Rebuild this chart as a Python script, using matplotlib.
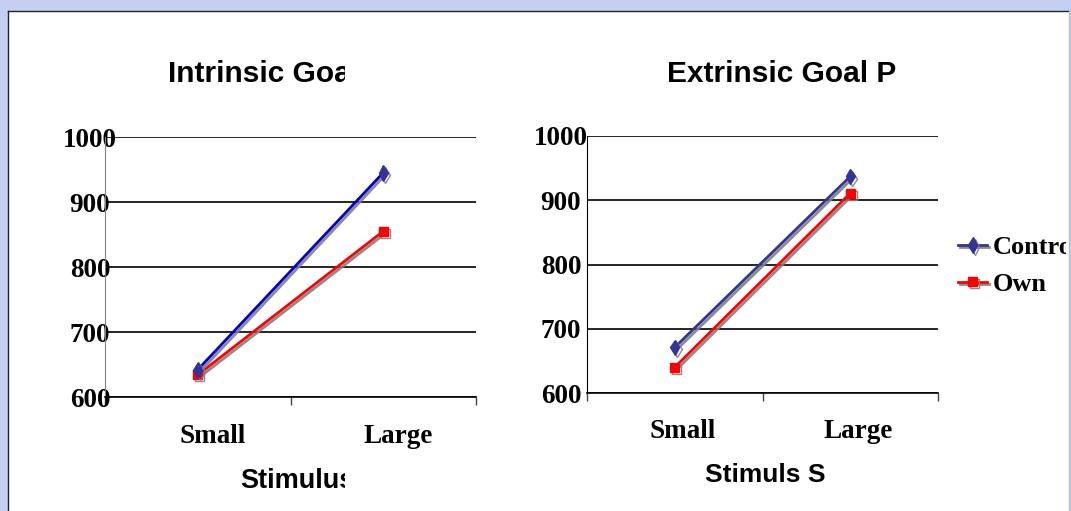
import matplotlib.pyplot as plt
import matplotlib.patheffects as pe
from matplotlib.patches import Rectangle
from matplotlib.transforms import Bbox, TransformedBbox, blended_transform_factory, offset_copy

W, H = 1071, 511

categories = ['Small', 'Large']
series_names = ['Control', 'Own']
intrinsic_control = [642, 945]
intrinsic_own = [634, 855]
extrinsic_control = [671, 937]
extrinsic_own = [640, 911]
y_ticks = [600, 700, 800, 900, 1000]

serif = 'Liberation Serif'
sans = 'Liberation Sans'

fig = plt.figure(figsize=(W / 100, H / 100), dpi=100)
fig.patch.set_facecolor('#c4cff1')

# white slide panel
fig.add_artist(Rectangle((8 / W, -0.1), 1061 / W, 1 - 11 / H + 0.1, transform=fig.transFigure,
                         facecolor='white', edgecolor='none', zorder=0))
fig.add_artist(plt.Line2D([8 / W, 8 / W], [0, 1 - 11 / H], color='#222222', lw=1, transform=fig.transFigure))
fig.add_artist(plt.Line2D([8 / W, 1069 / W], [1 - 11 / H, 1 - 11 / H], color='#222222', lw=1, transform=fig.transFigure))
fig.add_artist(plt.Line2D([1069 / W, 1069 / W], [0, 1 - 11 / H], color='#bbbbbb', lw=1, transform=fig.transFigure))


def px_axes(x0, x1, ytop, ybot):
    return fig.add_axes([x0 / W, (H - ybot) / H, (x1 - x0) / W, (ybot - ytop) / H])


def clip_right(artist, xpix):
    box = TransformedBbox(Bbox.from_extents(0, 0, xpix / W, 1), fig.transFigure)
    artist.set_clip_box(box)
    artist.set_clip_on(True)


shadow = [pe.SimpleLineShadow(offset=(1.5, -1.5), shadow_color='#808080', alpha=0.9), pe.Normal()]


def make_chart(ax, control, own, control_line, yspine, ylab_pad, cat_dx, cat_dy):
    x = [0.5, 1.5]
    l1, = ax.plot(x, control, color=control_line, lw=2, marker='d', ms=8,
                  mfc='#333399', mec='#333399', path_effects=shadow, zorder=4, clip_on=False)
    l2, = ax.plot(x, own, color='#ff0000', lw=2, marker='s', ms=6.5,
                  mfc='#ff0000', mec='#ff0000', path_effects=shadow, zorder=3, clip_on=False)
    ax.set_xlim(0, 2)
    ax.set_ylim(600, 1000)
    ax.set_yticks(y_ticks)
    ax.set_yticklabels([str(v) for v in y_ticks], fontfamily=serif, fontweight='bold',
                       fontsize=19.5, ha='center')
    ax.tick_params(axis='y', length=0, pad=ylab_pad)
    ax.grid(axis='y', color='black', lw=1.2)
    ax.set_xticks([0, 1, 2])
    ax.set_xticklabels([])
    ax.tick_params(axis='x', length=6, width=1, color='#444444', direction='out')
    for s in ['top', 'right']:
        ax.spines[s].set_visible(False)
    ax.spines['left'].set_color(yspine)
    ax.spines['bottom'].set_color('black')
    ax.spines['bottom'].set_linewidth(1.2)
    trans = blended_transform_factory(ax.transData, ax.transAxes)
    trans = offset_copy(trans, fig=fig, x=cat_dx, y=-cat_dy, units='dots')
    for i, c in enumerate(categories):
        ax.text(i + 0.5, 0, c, transform=trans, ha='center', va='baseline',
                fontfamily=serif, fontweight='bold', fontsize=19.5)
    return l1, l2


ax1 = px_axes(105, 476, 137, 397)
make_chart(ax1, intrinsic_control, intrinsic_own, '#0000cc', '#808080', 10.8, 15, 46)

ax2 = px_axes(587, 938, 136, 393)
h1, h2 = make_chart(ax2, extrinsic_control, extrinsic_own, '#333399', 'black', 18.7, 8, 45)

# titles and axis labels (cut off by their text boxes in the original)
t = fig.text(168 / W, 1 - 82 / H, 'Intrinsic Goal', fontfamily=sans, fontweight='bold',
             fontsize=21.5, va='baseline')
clip_right(t, 345)
t = fig.text(667 / W, 1 - 82 / H, 'Extrinsic Goal Pr', fontfamily=sans, fontweight='bold',
             fontsize=21.5, va='baseline')
clip_right(t, 897)
t = fig.text(240 / W, 1 - 488 / H, 'Stimulus', fontfamily=sans, fontweight='bold',
             fontsize=19.5, va='baseline')
clip_right(t, 345)
fig.text(705 / W, 1 - 482 / H, 'Stimuls S', fontfamily=sans, fontweight='bold',
         fontsize=19, va='baseline')

leg = fig.legend([h1, h2], series_names, loc='upper left', bbox_to_anchor=(958 / W, 1 - 236 / H),
                 frameon=False, borderpad=0, borderaxespad=0, handlelength=1.1,
                 handletextpad=0.2, labelspacing=0.5,
                 prop={'family': serif, 'weight': 'bold', 'size': 19})
for txt in leg.get_texts():
    clip_right(txt, 1066)

fig.savefig('out.png', dpi=100, facecolor=fig.get_facecolor())
